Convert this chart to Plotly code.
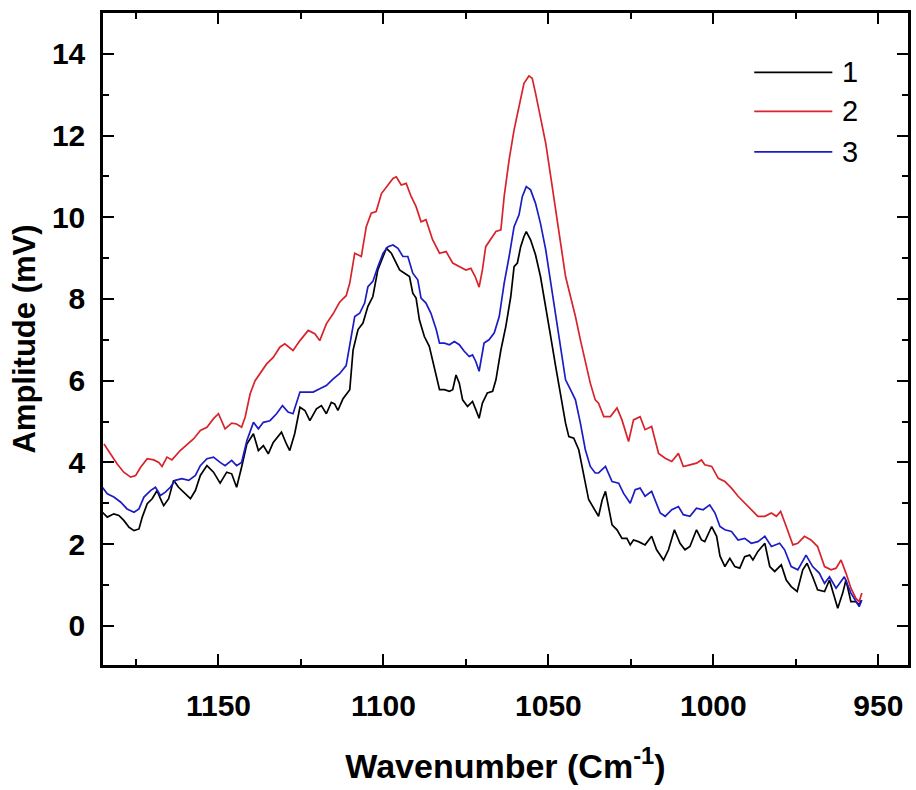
import plotly.graph_objects as go

# ---- data ----
wn1 = [1185.2,1183.7,1181.7,1180.2,1178.7,1177.1,1175.6,1174.1,1173.1,1171.6,1170.1,1168.6,1167.6,1166.6,1165.1,1163.6,1162.1,1160.0,1158.5,1157.0,1155.5,1153.5,1151.5,1149.5,1147.5,1146.0,1144.5,1143.0,1141.4,1139.4,1137.9,1136.4,1134.9,1133.4,1130.9,1129.4,1128.4,1126.9,1125.3,1123.8,1122.3,1120.3,1118.8,1117.3,1115.8,1114.8,1113.8,1112.3,1110.8,
       1110.2,1109.2,1107.7,1106.2,1104.7,1103.2,1101.7,1100.1,1099.1,1097.6,1096.1,1095.1,1093.6,1092.1,1091.1,1090.1,1089.1,1087.6,1086.1,1084.5,1083.0,1081.5,1080.0,1079.0,1078.0,1077.0,1076.0,1074.5,1073.0,1072.0,1071.0,1070.0,1068.5,1066.9,1065.9,1064.4,1062.9,1061.4,1060.4,1059.4,1058.4,1057.4,1056.7,1055.4,1053.9,1052.4,1050.8,1049.3,1047.8,1046.3,1044.8,1043.8,1042.3,1040.8,1039.3,1037.8,
       1034.8,1033.7,1032.7,1031.7,1030.7,1029.2,1027.7,1026.2,1025.2,1024.2,1022.7,1020.7,1018.7,1017.2,1015.1,1013.6,1011.8,1010.1,1008.6,1007.1,1005.1,1003.6,1002.6,1000.5,999.0,998.0,996.5,995.0,993.5,992.0,990.5,989.0,988.0,986.5,984.4,982.9,981.4,979.4,977.9,976.4,974.6,972.9,971.6,969.9,968.4,966.3,964.8,963.8,962.3,960.8,959.8,958.3,956.8,955.8,955.1]
amp1 = [2.78,2.66,2.74,2.70,2.58,2.41,2.33,2.37,2.66,2.99,3.11,3.31,3.11,2.94,3.11,3.56,3.39,3.23,3.11,3.31,3.68,3.92,3.76,3.49,3.76,3.72,3.39,3.88,4.45,4.70,4.29,4.41,4.21,4.49,4.74,4.45,4.29,4.70,5.35,5.27,5.02,5.31,5.39,5.19,5.47,5.43,5.27,5.55,5.72,
        5.78,6.75,7.25,7.41,7.82,8.06,8.71,9.04,9.24,9.12,8.88,8.71,8.63,8.55,8.14,8.02,7.49,7.08,6.84,6.27,5.78,5.78,5.74,5.78,6.14,5.94,5.53,5.37,5.49,5.29,5.08,5.45,5.70,5.74,6.02,6.75,7.33,8.06,8.79,8.88,9.28,9.53,9.65,9.45,9.08,8.55,7.74,7.08,6.35,5.70,4.96,4.63,4.59,4.31,3.74,3.09,
        2.68,3.08,3.29,2.84,2.47,2.35,2.14,2.14,1.98,2.10,2.06,1.98,2.19,1.86,1.61,1.86,2.35,2.02,1.86,1.94,2.35,2.10,2.06,2.43,2.19,1.71,1.45,1.65,1.45,1.41,1.69,1.73,1.61,1.82,2.02,1.45,1.33,1.49,1.12,0.96,0.84,1.37,1.53,1.20,0.88,0.84,1.12,0.84,0.43,0.80,1.12,0.59,0.59,0.51,0.63]

wn2 = [1184.7,1182.7,1180.7,1178.7,1176.6,1175.1,1173.6,1171.6,1169.6,1168.1,1167.1,1165.6,1164.1,1161.6,1159.5,1157.5,1155.5,1153.5,1151.5,1150.0,1148.0,1146.0,1144.5,1143.0,1141.9,1140.4,1138.9,1137.4,1135.4,1133.4,1131.4,1129.9,1127.4,1125.3,1122.8,1120.8,1119.3,1117.3,1115.3,1113.3,1111.3,
       1110.2,1108.7,1106.7,1105.2,1103.7,1102.2,1100.6,1099.1,1097.1,1096.1,1094.6,1093.1,1091.6,1090.1,1088.6,1087.1,1085.1,1083.0,1081.0,1079.0,1077.0,1075.0,1073.5,1072.2,1071.0,1070.0,1069.0,1067.5,1065.9,1064.4,1063.4,1061.9,1060.4,1058.9,1057.4,1055.9,1054.9,1053.9,1052.4,1050.8,1049.3,1047.8,1046.3,1044.8,1043.3,1041.8,1040.3,1038.8,1037.3,1035.8,
       1034.8,1033.2,1031.2,1029.2,1027.7,1025.7,1024.2,1022.2,1020.7,1018.7,1016.6,1014.6,1012.6,1010.6,1009.1,1007.1,1005.1,1003.6,1002.6,1000.5,998.5,996.5,994.5,992.5,990.5,988.5,986.5,984.4,982.4,980.9,979.6,977.9,975.9,974.4,972.4,970.4,968.4,966.3,964.3,962.8,961.3,959.8,958.3,956.8,955.8,955.0]
amp2 = [4.45,4.21,3.96,3.76,3.64,3.68,3.88,4.09,4.06,4.00,3.90,4.13,4.06,4.29,4.45,4.58,4.78,4.86,5.07,5.19,4.82,4.96,4.94,4.86,5.11,5.68,6.00,6.17,6.41,6.57,6.82,6.90,6.74,6.98,7.23,7.15,6.98,7.39,7.63,7.92,8.08,
        8.39,9.12,9.04,9.77,10.10,10.14,10.58,10.75,10.95,10.99,10.79,10.83,10.51,10.26,9.89,9.94,9.45,9.12,9.16,8.88,8.79,8.71,8.75,8.55,8.29,8.71,9.28,9.45,9.65,9.69,10.51,11.41,12.14,12.71,13.28,13.46,13.40,13.04,12.47,11.81,11.00,10.18,9.37,8.55,8.06,7.57,7.00,6.43,5.94,5.53,
        5.45,5.12,5.12,5.33,5.04,4.51,5.04,5.12,4.80,4.88,4.22,4.10,4.02,4.22,3.90,3.94,3.98,4.06,3.94,3.90,3.61,3.53,3.37,3.17,3.00,2.84,2.68,2.68,2.76,2.68,2.80,2.43,1.98,2.02,2.19,2.10,1.94,1.45,1.37,1.41,1.61,1.29,0.92,0.67,0.59,0.80]

wn3 = [1185.2,1183.7,1181.7,1179.7,1177.7,1175.6,1174.1,1172.6,1170.6,1169.1,1167.6,1166.1,1164.6,1163.1,1161.1,1159.0,1157.0,1155.5,1153.5,1151.5,1149.5,1148.0,1146.0,1144.5,1143.0,1141.4,1139.4,1137.9,1136.4,1134.4,1132.4,1130.6,1128.9,1127.4,1125.3,1123.3,1121.3,1119.3,1117.3,1115.3,1113.3,1111.3,
       1110.2,1108.7,1107.2,1105.7,1104.7,1103.2,1101.7,1100.1,1098.6,1097.1,1095.6,1094.1,1092.6,1091.1,1089.6,1088.6,1087.1,1085.6,1084.0,1083.0,1081.5,1080.0,1078.5,1077.0,1075.5,1074.0,1073.0,1072.0,1071.0,1069.5,1068.0,1066.4,1064.9,1063.4,1061.9,1060.4,1058.9,1057.9,1056.7,1055.4,1053.9,1052.4,1050.8,1049.3,1047.8,1046.3,1044.8,1043.3,1041.8,1040.3,1038.8,1037.3,1035.8,
       1034.8,1032.7,1030.7,1028.7,1027.2,1025.2,1023.7,1022.2,1020.7,1018.7,1016.1,1014.6,1012.6,1010.6,1009.1,1007.1,1005.1,1003.1,1001.1,999.5,998.0,996.5,994.5,992.5,990.5,988.5,986.5,984.4,982.4,979.9,978.4,976.4,974.4,971.9,969.9,967.9,966.3,964.8,962.8,960.3,958.3,956.8,955.8,955.0]
amp3 = [3.39,3.23,3.15,3.03,2.86,2.78,2.86,3.15,3.31,3.39,3.19,3.27,3.39,3.56,3.60,3.56,3.68,3.92,4.09,4.13,4.00,3.92,4.05,3.92,4.00,4.53,4.98,4.82,4.98,5.02,5.19,5.39,5.23,5.19,5.72,5.72,5.72,5.80,5.88,6.04,6.17,6.37,
        6.92,7.57,7.65,7.90,8.30,8.43,8.79,9.12,9.28,9.32,9.24,9.04,9.04,8.63,8.47,8.02,7.90,7.65,7.25,6.92,6.92,6.88,6.96,6.88,6.72,6.59,6.63,6.47,6.23,6.92,7.00,7.17,7.57,8.39,9.04,9.77,10.06,10.51,10.75,10.67,10.34,9.85,9.20,8.39,7.57,6.76,6.02,5.78,5.53,4.96,4.31,3.90,3.74,
        3.74,3.90,3.53,3.49,3.24,3.00,3.33,3.37,3.17,3.29,2.76,2.68,2.84,2.92,2.72,2.68,2.88,2.84,2.96,2.76,2.43,2.35,2.31,2.10,2.14,2.02,2.06,2.19,1.94,2.02,1.86,1.45,1.37,1.73,1.45,1.29,1.04,1.20,0.92,1.20,0.80,0.59,0.47,0.63]

series_names = ["1", "2", "3"]
series_colors = ["#000000", "#d8232a", "#1c1cc4"]
x_ticks = [1150, 1100, 1050, 1000, 950]
y_ticks = [0, 2, 4, 6, 8, 10, 12, 14]

FONT = "Liberation Sans, Arial, sans-serif"
NARROW = "Liberation Sans Narrow, Arial Narrow, Liberation Sans, sans-serif"

fig = go.Figure()
for wn, amp, name, col in zip([wn1, wn2, wn3], [amp1, amp2, amp3], series_names, series_colors):
    fig.add_trace(go.Scatter(x=wn, y=amp, mode="lines", name=name,
                             line=dict(color=col, width=1.7), showlegend=False))

# custom legend (long line samples like the original)
leg_y = [0.909, 0.849, 0.787]
for name, col, ly in zip(series_names, series_colors, leg_y):
    fig.add_shape(type="line", xref="paper", yref="paper", x0=0.809, x1=0.906, y0=ly, y1=ly,
                  line=dict(color=col, width=1.7))
    fig.add_annotation(xref="paper", yref="paper", x=0.916, y=ly, text=name, showarrow=False,
                       xanchor="left", yanchor="middle", font=dict(family=FONT, size=29, color="#000"))

axis_common = dict(showline=True, linecolor="black", linewidth=2.5, mirror="allticks",
                   ticks="inside", ticklen=11, tickwidth=2, tickcolor="black",
                   showgrid=False, zeroline=False,
                   tickfont=dict(family=NARROW, size=30, color="black", weight="bold"))

fig.update_xaxes(range=[1185, 941], tickvals=x_ticks, ticklabelstandoff=12,
                 minor=dict(dtick=25, tick0=0, ticks="inside", ticklen=6, tickwidth=2, tickcolor="black"),
                 title=dict(text="Wavenumber (Cm<sup>-1</sup>)", standoff=34,
                            font=dict(family=FONT, size=34, color="black", weight="bold")),
                 **axis_common)
fig.update_yaxes(range=[-0.96, 15.0], tickvals=y_ticks, ticklabelstandoff=9,
                 minor=dict(dtick=1, tick0=0, ticks="inside", ticklen=6, tickwidth=2, tickcolor="black"),
                 title=dict(text="Amplitude (mV)", standoff=8,
                            font=dict(family=FONT, size=31, color="black", weight="bold")),
                 **axis_common)

fig.update_layout(width=916, height=790, margin=dict(l=103, r=5, t=13, b=125),
                  paper_bgcolor="white", plot_bgcolor="white", showlegend=False)

fig.write_html("out.html")
